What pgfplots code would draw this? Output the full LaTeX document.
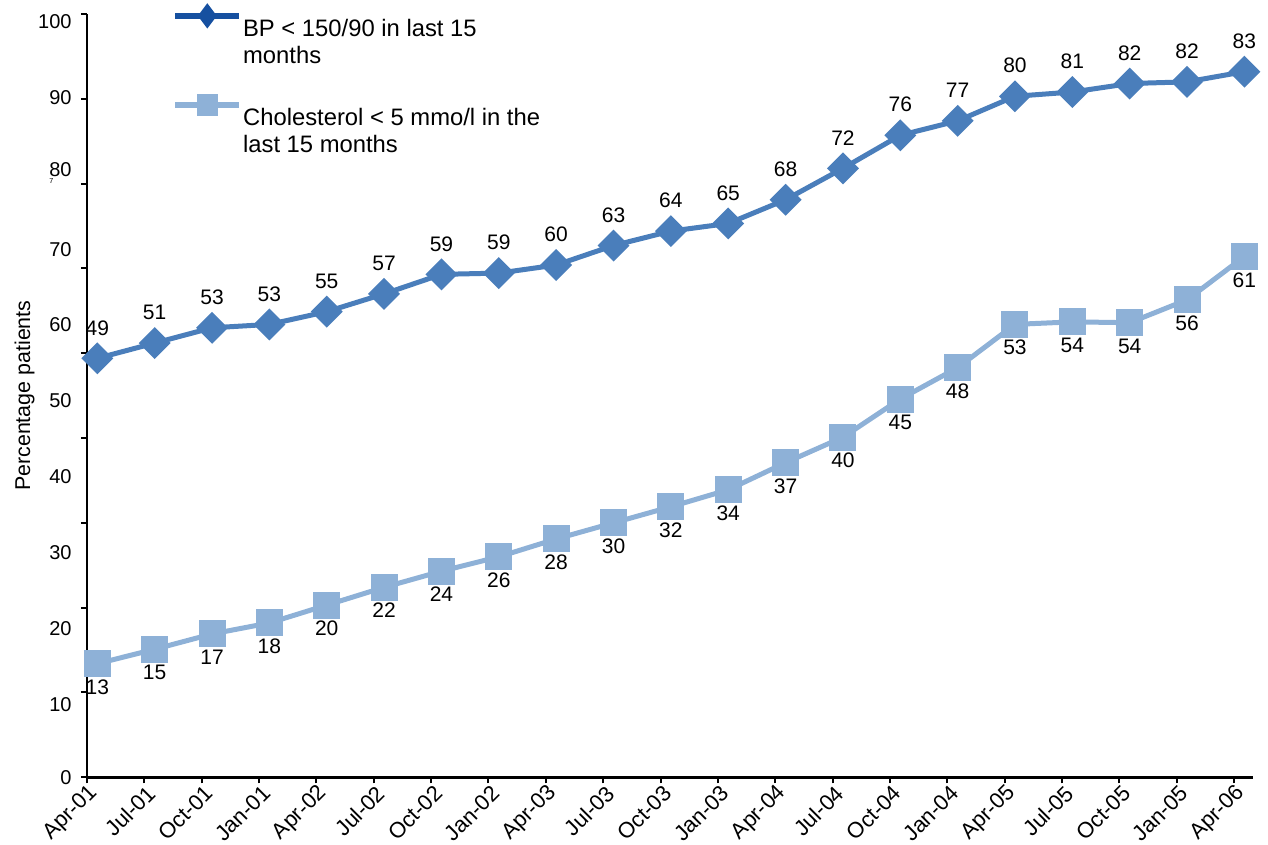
\documentclass[border=0pt]{standalone}
\usepackage{fontspec}
\setmainfont{Liberation Sans}
\usepackage{pgfplots}
\usepackage{pgfplotstable}
\pgfplotsset{compat=1.18}
\definecolor{bp}{HTML}{4A7EBB}
\definecolor{bpleg}{HTML}{1650A0}
\definecolor{ch}{HTML}{8EB1D7}

\pgfplotsset{
  legline/.style={legend image code/.code={\draw[##1, mark repeat=2, mark phase=2] plot coordinates {(0bp,6.75bp) (16bp,6.75bp) (32bp,6.75bp)};}},
}

\pgfplotstableread{
x y lab
0.18 49.4 49
1.18 51.2 51
2.18 53.0 53
3.18 53.4 53
4.18 54.9 55
5.18 57.0 57
6.18 59.3 59
7.18 59.45 59
8.18 60.4 60
9.18 62.7 63
10.18 64.4 64
11.18 65.3 65
12.18 68.1 68
13.18 71.8 72
14.18 75.7 76
15.18 77.4 77
16.18 80.3 80
17.18 80.8 81
18.18 81.8 82
19.18 82.0 82
20.18 83.2 83
}\bpdata

\pgfplotstableread{
x y lab
0.18 13.4 13
1.18 15.1 15
2.18 16.9 17
3.18 18.2 18
4.18 20.3 20
5.18 22.4 22
6.18 24.3 24
7.18 26.0 26
8.18 28.1 28
9.18 30.0 30
10.18 31.9 32
11.18 33.9 34
12.18 37.1 37
13.18 40.1 40
14.18 44.6 45
15.18 48.3 48
16.18 53.4 53
17.18 53.7 54
18.18 53.6 54
19.18 56.3 56
20.18 61.4 61
}\chdata

\begin{document}
\begin{tikzpicture}
\path[use as bounding box] (-43.5bp,-33.85bp) rectangle (590.5bp,388.65bp);
\begin{axis}[
  at={(0,0)}, anchor=south west,
  scale only axis, width=583bp, height=381.65bp,
  xmin=0, xmax=20.33, ymin=0, ymax=90,
  clip=false,
  axis lines*=left,
  axis line style={line width=1.2bp, black},
  tick align=outside, major tick length=3bp,
  tick style={line width=1bp, black},
  /pgf/number format/assume math mode=true,
  xtick={0,1,...,20},
  xticklabels={Apr-01,Jul-01,Oct-01,Jan-01,Apr-02,Jul-02,Oct-02,Jan-02,Apr-03,Jul-03,Oct-03,Jan-03,Apr-04,Jul-04,Oct-04,Jan-04,Apr-05,Jul-05,Oct-05,Jan-05,Apr-06},
  xticklabel style={xshift=3.8bp, yshift=-3.1bp, rotate=45, anchor=east, inner sep=0pt, font=\fontsize{11bp}{13bp}\selectfont},
  ytick={0,10,...,90},
  yticklabels={},
  extra y ticks={0,8.57,17.52,26.47,35.42,44.37,53.32,62.27,71.22,80.17,89.12},
  extra y tick labels={0,10,20,30,40,50,60,70,{\makebox[0pt][r]{\raisebox{-3.6bp}{\fontsize{3.6bp}{4bp}\selectfont 7}\hspace{-2bp}}80},90,100},
  extra y tick style={major tick length=0pt},
  yticklabel style={anchor=east, inner sep=0pt, xshift=-7.5bp, font=\fontsize{10bp}{12bp}\selectfont},
  ylabel={Percentage patients},
  every axis y label/.style={at={(axis description cs:-0.0536,0.5)}, rotate=90, anchor=center, font=\fontsize{10.7bp}{12bp}\selectfont},
  legend style={draw=none, fill=none, inner sep=0pt, at={(axis description cs:0.073,1)}, anchor=north west, yshift=3.25bp, row sep=28.8bp, column sep=0.5bp, font=\fontsize{11.9bp}{13.5bp}\selectfont, nodes={inner sep=0pt}},
  legend cell align=left,
]
\addplot[bp, line width=2.5bp, mark=square*, mark size=4.4bp, mark options={rotate=45, solid},
  point meta=explicit symbolic, nodes near coords,
  nodes near coords style={anchor=south, inner sep=0pt, yshift=10.3bp, text=black, font=\fontsize{10.5bp}{12bp}\selectfont},
  forget plot] table[x=x, y=y, meta=lab] {\bpdata};
\addplot[ch, line width=2.5bp, mark=square*, mark size=5.5bp, mark options={solid},
  point meta=explicit symbolic, nodes near coords,
  nodes near coords style={anchor=north, inner sep=0pt, yshift=-6.7bp, text=black, font=\fontsize{10.5bp}{12bp}\selectfont},
  forget plot] table[x=x, y=y, meta=lab] {\chdata};
\addlegendimage{bpleg, line width=2.8bp, mark=diamond*, mark size=4bp, mark options={solid}, legline}
\addlegendentry{\parbox[t]{170bp}{BP < 150/90 in last 15\\months}}
\addlegendimage{ch, line width=2.8bp, mark=square*, mark size=3.9bp, mark options={solid}, legline}
\addlegendentry{\parbox[t]{170bp}{Cholesterol < 5 mmo/l in the\\last 15 months}}
\end{axis}
\end{tikzpicture}
\end{document}
